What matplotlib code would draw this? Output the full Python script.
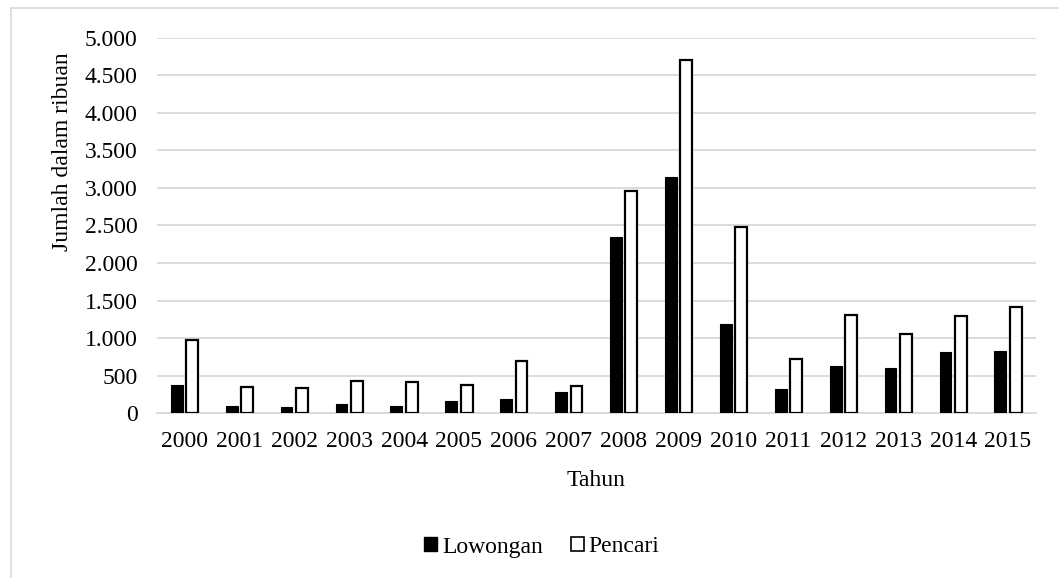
import matplotlib
matplotlib.use("Agg")
import matplotlib.pyplot as plt
import numpy as np
from matplotlib.ticker import FuncFormatter, MultipleLocator
from matplotlib.patches import Rectangle
from matplotlib.lines import Line2D

years = ["2000", "2001", "2002", "2003", "2004", "2005", "2006", "2007",
         "2008", "2009", "2010", "2011", "2012", "2013", "2014", "2015"]
lowongan = [380, 97, 88, 128, 93, 162, 186, 289, 2344, 3139, 1185, 320, 623, 604, 813, 831]
pencari = [970, 346, 332, 434, 420, 373, 693, 365, 2962, 4702, 2477, 724, 1303, 1053, 1293, 1409]

plt.rcParams['font.family'] = ['Liberation Serif', 'DejaVu Serif']
FS = 17

W, H = 1059, 578
fig = plt.figure(figsize=(W / 100, H / 100), dpi=100)
ax = fig.add_axes([157 / W, 1 - 413.3 / H, (1035.5 - 157) / W, (413.3 - 37.5) / H])

x = np.arange(len(years))
bw = 0.215
off = 0.14
ax.bar(x - off, lowongan, width=bw, color='black', edgecolor='black', linewidth=0.8,
       label='Lowongan', zorder=3)
ax.bar(x + off, pencari, width=bw, color='white', edgecolor='black', linewidth=1.6,
       label='Pencari', zorder=3)

ax.set_xlim(-0.5, len(years) - 0.5)
ax.set_ylim(0, 5000)
ax.yaxis.set_major_locator(MultipleLocator(500))
ax.yaxis.set_major_formatter(FuncFormatter(lambda v, p: f"{int(v):,}".replace(",", ".")))
ax.grid(axis='y', color='#d9d9d9', linewidth=1.3, zorder=0)
ax.set_axisbelow(True)
for s in ['top', 'right', 'left']:
    ax.spines[s].set_visible(False)
ax.spines['bottom'].set_color('#d9d9d9')
ax.spines['bottom'].set_linewidth(1.3)
ax.set_xticks(x)
ax.set_xticklabels(years)
ax.tick_params(axis='both', length=0, labelsize=FS, colors='black')
ax.tick_params(axis='y', pad=14)
ax.tick_params(axis='x', pad=13)

fig.text(596 / W, 1 - 481 / H, 'Tahun', fontsize=FS, ha='center', va='center')
fig.text(62 / W, 1 - 152 / H, 'Jumlah dalam ribuan', fontsize=FS, ha='center', va='center',
         rotation=90)

handles = [Rectangle((0, 0), 1, 1, facecolor='black', edgecolor='black'),
           Rectangle((0, 0), 1, 1, facecolor='white', edgecolor='black', linewidth=1.2)]
fig.legend(handles, ['Lowongan', 'Pencari'], loc='center', bbox_to_anchor=(542 / W, 1 - 547 / H),
           ncol=2, frameon=False, fontsize=FS, handlelength=0.55, handleheight=0.55,
           handletextpad=0.2, columnspacing=1.2, borderpad=0)

# light frame lines of the page
fig.add_artist(Line2D([11 / W, 1], [1 - 8 / H, 1 - 8 / H], color='#d9d9d9', linewidth=1.2))
fig.add_artist(Line2D([11 / W, 11 / W], [0, 1 - 8 / H], color='#d9d9d9', linewidth=1.2))

fig.savefig('out.png', dpi=100)
